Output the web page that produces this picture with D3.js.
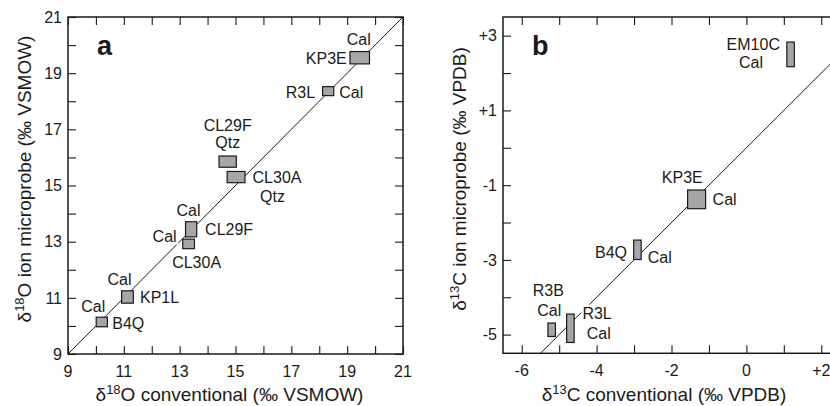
<!DOCTYPE html>
<html>
<head>
<meta charset="utf-8">
<script src="https://cdn.jsdelivr.net/npm/d3@7"></script>
<style>
  body { margin: 0; background: #fff; }
  text { font-family: "Liberation Sans", Arial, sans-serif; fill: #1a1a1a; }
</style>
</head>
<body>
<div id="chart"></div>
<script>
// oxygen panel (a): samples, conventional vs ion probe, half widths of error boxes
var oxySamples = ["KP3E", "R3L", "CL29F", "CL30A", "CL29F", "CL30A", "KP1L", "B4Q"];
var oxyMinerals = ["Cal", "Cal", "Qtz", "Qtz", "Cal", "Cal", "Cal", "Cal"];
var oxyConv = [19.45, 18.32, 14.72, 15.02, 13.41, 13.32, 11.13, 10.21];
var oxyProbe = [19.55, 18.36, 15.85, 15.30, 13.44, 12.92, 11.03, 10.14];
var oxyConvErr = [0.35, 0.20, 0.31, 0.32, 0.20, 0.21, 0.21, 0.20];
var oxyProbeErr = [0.22, 0.16, 0.20, 0.20, 0.27, 0.17, 0.22, 0.17];

// carbon panel (b)
var carbSamples = ["EM10C", "KP3E", "B4Q", "R3B", "R3L"];
var carbMinerals = ["Cal", "Cal", "Cal", "Cal", "Cal"];
var carbConv = [1.18, -1.33, -2.91, -5.20, -4.70];
var carbProbe = [2.50, -1.38, -2.73, -4.87, -4.83];
var carbConvErr = [0.10, 0.24, 0.10, 0.10, 0.10];
var carbProbeErr = [0.33, 0.25, 0.26, 0.18, 0.38];

// tick values
var oxyTicks = d3.range(9, 22, 1);
var oxyLabels = [9, 11, 13, 15, 17, 19, 21];
var carbXTicks = d3.range(-6, 3, 1);
var carbXLabels = [-6, -4, -2, 0, 2];
var carbYTicks = d3.range(-5, 4, 1);
var carbYLabels = [-5, -3, -1, 1, 3];

// label placement, pixel offsets from box centre: [sample dx, dy, anchor, mineral dx, dy, anchor]
var oxyLabelPos = [
  [-13, 6, "end", -1, -13, "middle"],
  [-13, 6.5, "end", 11, 6.5, "start"],
  [0, -31, "middle", 0, -13.5, "middle"],
  [16.5, 6.2, "start", 36.5, 25, "middle"],
  [14, 5.7, "start", -2.6, -13.6, "middle"],
  [8, 24.4, "middle", -12, -2.2, "end"],
  [12.5, 6.4, "start", -8, -12, "middle"],
  [10.5, 7.5, "start", -8.5, -10.3, "middle"]
];
var carbLabelPos = [
  [-10.6, -4.7, "end", -39.5, 13.6, "middle"],
  [-14.3, -16, "middle", 16, 5.5, "start"],
  [-10.4, 8, "end", 10.3, 13, "start"],
  [-3.4, -33.3, "middle", -2.4, -13.3, "middle"],
  [12, -9.1, "start", 16.3, 11, "start"]
];

var svg = d3.select("#chart").append("svg")
  .attr("width", 830)
  .attr("height", 406);

function fmtSigned(d) { return d > 0 ? "+" + d : String(d); }

function drawPanel(p) {
  var g = svg.append("g");
  var x = p.x, y = p.y;
  var x0 = x.range()[0], x1 = x.range()[1];
  var y0 = y.range()[0], y1 = y.range()[1];
  var tl = 8;

  // 1:1 line
  var lo = Math.max(x.domain()[0], y.domain()[0]);
  var hi = Math.min(x.domain()[1], y.domain()[1]);
  g.append("line")
    .attr("x1", x(lo)).attr("y1", y(lo))
    .attr("x2", x(hi)).attr("y2", y(hi))
    .attr("stroke", "#1a1a1a").attr("stroke-width", 1);

  // inward ticks on all four sides via d3 axes
  g.append("g").attr("transform", "translate(0," + y0 + ")")
    .call(d3.axisTop(x).tickValues(p.xTicks).tickSize(tl).tickFormat(""));
  g.append("g").attr("transform", "translate(0," + y1 + ")")
    .call(d3.axisBottom(x).tickValues(p.xTicks).tickSize(tl).tickFormat(""));
  g.append("g").attr("transform", "translate(" + x0 + ",0)")
    .call(d3.axisRight(y).tickValues(p.yTicks).tickSize(tl).tickFormat(""));
  g.append("g").attr("transform", "translate(" + x1 + ",0)")
    .call(d3.axisLeft(y).tickValues(p.yTicks).tickSize(tl).tickFormat(""));
  g.selectAll(".domain").remove();
  g.selectAll(".tick line").attr("stroke", "#1a1a1a").attr("stroke-width", 1.1);

  // frame
  g.append("rect")
    .attr("x", x0).attr("y", y1)
    .attr("width", x1 - x0).attr("height", y0 - y1)
    .attr("fill", "none").attr("stroke", "#1a1a1a").attr("stroke-width", 1.5);

  // tick labels
  g.selectAll(".xl").data(p.xLabels).enter().append("text")
    .attr("x", function(d) { return x(d); })
    .attr("y", y0 + 23)
    .attr("text-anchor", "middle")
    .style("font-size", "16px")
    .text(p.fmt);
  g.selectAll(".yl").data(p.yLabels).enter().append("text")
    .attr("x", x0 - 6)
    .attr("y", function(d) { return y(d) + 5.8; })
    .attr("text-anchor", "end")
    .style("font-size", "16px")
    .text(p.fmt);

  // error boxes
  var rows = p.conv.map(function(v, i) {
    return { cx: v, cy: p.probe[i], ex: p.convErr[i], ey: p.probeErr[i],
             name: p.samples[i], min: p.minerals[i], pos: p.labelPos[i] };
  });
  g.selectAll(".box").data(rows).enter().append("rect")
    .attr("x", function(d) { return x(d.cx - d.ex); })
    .attr("y", function(d) { return y(d.cy + d.ey); })
    .attr("width", function(d) { return x(d.cx + d.ex) - x(d.cx - d.ex); })
    .attr("height", function(d) { return y(d.cy - d.ey) - y(d.cy + d.ey); })
    .attr("fill", "#a6a6a9")
    .attr("stroke", "#1a1a1a")
    .attr("stroke-width", 1.2);

  // sample + mineral labels (white halo breaks the 1:1 line where they overlap)
  rows.forEach(function(d) {
    var cx = x(d.cx), cy = y(d.cy);
    [[d.name, 0], [d.min, 3]].forEach(function(t) {
      g.append("text")
        .attr("x", cx + d.pos[t[1]])
        .attr("y", cy + d.pos[t[1] + 1])
        .attr("text-anchor", d.pos[t[1] + 2])
        .style("font-size", "16px")
        .style("paint-order", "stroke")
        .style("stroke", "#fff")
        .style("stroke-width", "5px")
        .text(t[0]);
    });
  });

  // panel letter
  g.append("text")
    .attr("x", x0 + p.letterDx).attr("y", y1 + 38)
    .style("font-size", "27px").style("font-weight", "bold")
    .text(p.letter);

  // axis titles with superscripts
  var xt = g.append("text")
    .attr("x", (x0 + Math.min(x1, 829)) / 2 + p.xTitleDx).attr("y", 401)
    .attr("text-anchor", "middle")
    .style("font-size", "19px");
  xt.append("tspan").text("δ");
  xt.append("tspan").attr("dy", -7).style("font-size", "13px").text(p.iso);
  xt.append("tspan").attr("dy", 7).text(p.el + " conventional (‰ " + p.std + ")");

  var yt = g.append("text")
    .attr("transform", "translate(" + (x0 - 37) + ",179) rotate(-90)")
    .attr("text-anchor", "middle")
    .style("font-size", "19px");
  yt.append("tspan").text("δ");
  yt.append("tspan").attr("dy", -7).style("font-size", "13px").text(p.iso);
  yt.append("tspan").attr("dy", 7).text(p.el + " ion microprobe (‰ " + p.std + ")");
}

drawPanel({
  x: d3.scaleLinear().domain([9, 21]).range([68, 403]),
  y: d3.scaleLinear().domain([9, 21]).range([354, 17]),
  xTicks: oxyTicks, yTicks: oxyTicks,
  xLabels: oxyLabels, yLabels: oxyLabels,
  fmt: function(d) { return String(d); },
  conv: oxyConv, probe: oxyProbe, convErr: oxyConvErr, probeErr: oxyProbeErr,
  samples: oxySamples, minerals: oxyMinerals, labelPos: oxyLabelPos,
  letter: "a", letterDx: 29, xTitleDx: -6,
  iso: "18", el: "O", std: "VSMOW"
});

drawPanel({
  x: d3.scaleLinear().domain([-6.5, 2.5]).range([503, 840]),
  y: d3.scaleLinear().domain([-5.5, 3.5]).range([353.3, 17]),
  xTicks: carbXTicks, yTicks: carbYTicks,
  xLabels: carbXLabels, yLabels: carbYLabels,
  fmt: fmtSigned,
  conv: carbConv, probe: carbProbe, convErr: carbConvErr, probeErr: carbProbeErr,
  samples: carbSamples, minerals: carbMinerals, labelPos: carbLabelPos,
  letter: "b", letterDx: 29, xTitleDx: -2,
  iso: "13", el: "C", std: "VPDB"
});
</script>
</body>
</html>
